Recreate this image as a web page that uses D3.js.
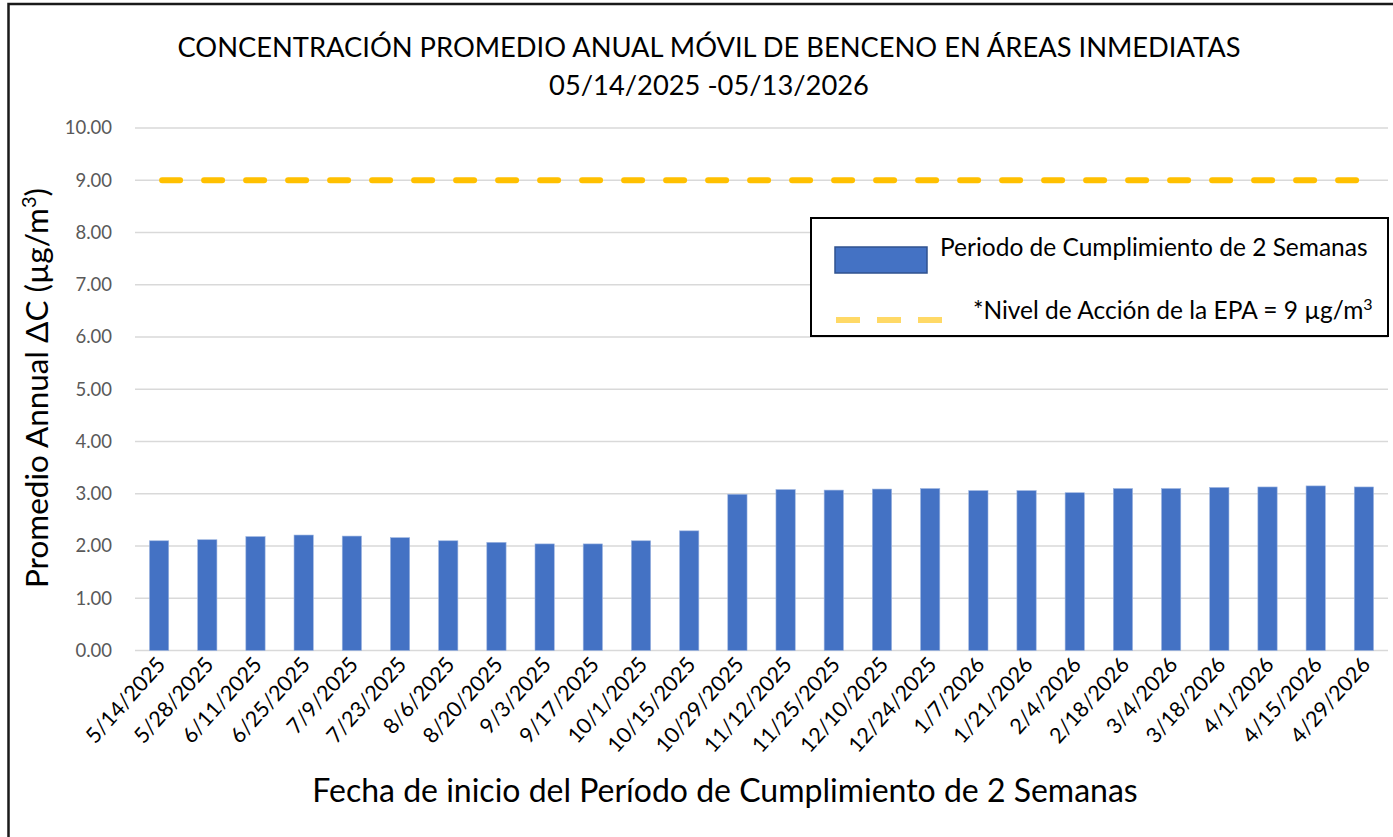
<!DOCTYPE html>
<html>
<head>
<meta charset="utf-8">
<script src="https://cdn.jsdelivr.net/npm/d3@7"></script>
<style>
  body { margin: 0; background: #fff; }
  svg { display: block; font-family: Lato, "Open Sans", sans-serif; }
</style>
</head>
<body>
<div id="wrapper"></div>
<script>
const dates = ["5/14/2025", "5/28/2025", "6/11/2025", "6/25/2025", "7/9/2025", "7/23/2025",
    "8/6/2025", "8/20/2025", "9/3/2025", "9/17/2025", "10/1/2025", "10/15/2025", "10/29/2025",
    "11/12/2025", "11/25/2025", "12/10/2025", "12/24/2025", "1/7/2026", "1/21/2026", "2/4/2026",
    "2/18/2026", "3/4/2026", "3/18/2026", "4/1/2026", "4/15/2026", "4/29/2026"];
const averages = [2.10, 2.12, 2.18, 2.21, 2.19, 2.16, 2.10, 2.07, 2.04, 2.04, 2.10, 2.29, 2.99,
    3.08, 3.07, 3.09, 3.10, 3.06, 3.06, 3.02, 3.10, 3.10, 3.12, 3.13, 3.15, 3.13];
const epaLevel = 9;
const yTicks = [0, 1, 2, 3, 4, 5, 6, 7, 8, 9, 10];

const BAR_COLOR = "#4472C4";
const LINE_COLOR = "#FFC000";
const GRID_COLOR = "#D9D9D9";

const width = 1393;
const height = 837;
const margin = { top: 128, right: 5, bottom: 186.5, left: 135 };
const boundedWidth = width - margin.left - margin.right;
const boundedHeight = height - margin.top - margin.bottom;

const svg = d3.select("#wrapper").append("svg")
    .attr("width", width)
    .attr("height", height);

// outer chart border, runs off the right and bottom edges
svg.append("rect")
    .attr("x", 8.5).attr("y", 4)
    .attr("width", 1420).attr("height", 860)
    .attr("fill", "none")
    .attr("stroke", "#1a1a1a")
    .attr("stroke-width", 2.5);

const bounds = svg.append("g")
    .attr("transform", `translate(${margin.left},${margin.top})`);

const xScale = d3.scaleBand()
    .domain(dates)
    .range([0, boundedWidth])
    .paddingInner(0.6)
    .paddingOuter(0.3);

const yScale = d3.scaleLinear()
    .domain([0, 10])
    .range([boundedHeight, 0]);

// gridlines
bounds.append("g")
    .selectAll("line")
    .data(yTicks)
    .join("line")
    .attr("x1", 0).attr("x2", boundedWidth)
    .attr("y1", d => yScale(d)).attr("y2", d => yScale(d))
    .attr("stroke", GRID_COLOR)
    .attr("stroke-width", 1.5);

// y axis labels
const yAxis = bounds.append("g")
    .call(d3.axisLeft(yScale).tickValues(yTicks).tickFormat(d3.format(".2f")).tickSize(0).tickPadding(23));
yAxis.select(".domain").remove();
yAxis.selectAll("text")
    .attr("fill", "#595959")
    .style("font-family", "Lato, sans-serif")
    .style("font-size", "18.5px");

// bars
bounds.append("g")
    .selectAll("rect")
    .data(averages)
    .join("rect")
    .attr("x", (d, i) => xScale(dates[i]))
    .attr("y", d => yScale(d))
    .attr("width", xScale.bandwidth())
    .attr("height", d => boundedHeight - yScale(d))
    .attr("fill", BAR_COLOR)
    .attr("stroke", "#9DB5E0")
    .attr("stroke-width", 0.6);

// EPA action level line, first to last category centre
const center = d => xScale(d) + xScale.bandwidth() / 2;
const epaLine = d3.line()
    .x(d => center(d))
    .y(() => yScale(epaLevel));
bounds.append("path")
    .datum(dates)
    .attr("d", epaLine)
    .attr("fill", "none")
    .attr("stroke", LINE_COLOR)
    .attr("stroke-width", 6)
    .attr("stroke-linecap", "round")
    .attr("stroke-dasharray", "18 24")
    .attr("stroke-dashoffset", -3);

// x axis labels
const xAxis = bounds.append("g")
    .attr("transform", `translate(0,${boundedHeight})`)
    .call(d3.axisBottom(xScale).tickSize(0).tickPadding(0));
xAxis.select(".domain").remove();
xAxis.selectAll("text")
    .attr("text-anchor", "end")
    .attr("dy", "0.35em")
    .attr("transform", "translate(2,10) rotate(-48)")
    .attr("fill", "#000")
    .style("font-family", "Lato, sans-serif")
    .style("font-size", "21.5px");

// title
const title = svg.append("text")
    .attr("x", 709)
    .attr("text-anchor", "middle")
    .attr("fill", "#000")
    .style("font-size", "27.3px");
title.append("tspan").attr("x", 709).attr("y", 57)
    .text("CONCENTRACIÓN PROMEDIO ANUAL MÓVIL DE BENCENO EN ÁREAS INMEDIATAS");
title.append("tspan").attr("x", 709).attr("y", 95)
    .text("05/14/2025 -05/13/2026");

// axis titles
svg.append("text")
    .attr("x", 725).attr("y", 802)
    .attr("text-anchor", "middle")
    .style("font-size", "32px")
    .text("Fecha de inicio del Período de Cumplimiento de 2 Semanas");

const yTitle = svg.append("text")
    .attr("transform", "translate(48,388) rotate(-90)")
    .attr("text-anchor", "middle")
    .style("font-size", "31.5px");
yTitle.append("tspan").text("Promedio Annual ΔC (µg/m");
yTitle.append("tspan").attr("baseline-shift", "super").style("font-size", "20px").text("3");
yTitle.append("tspan").text(")");

// legend
const legend = svg.append("g").attr("transform", "translate(811,218)");
legend.append("rect")
    .attr("width", 577).attr("height", 118)
    .attr("fill", "#fff")
    .attr("stroke", "#000")
    .attr("stroke-width", 2);
legend.append("rect")
    .attr("x", 24).attr("y", 29)
    .attr("width", 92).attr("height", 26)
    .attr("fill", BAR_COLOR)
    .attr("stroke", "#2F528F")
    .attr("stroke-width", 1.5);
legend.append("line")
    .attr("x1", 25).attr("x2", 131)
    .attr("y1", 102).attr("y2", 102)
    .attr("stroke", "#FFD966")
    .attr("stroke-width", 6)
    .attr("stroke-dasharray", "24 17");
legend.append("text")
    .attr("x", 129).attr("y", 38)
    .style("font-size", "24.5px")
    .text("Periodo de Cumplimiento de 2 Semanas");
const legText = legend.append("text")
    .attr("x", 162).attr("y", 101)
    .style("font-size", "24.5px");
legText.append("tspan").text("*Nivel de Acción de la EPA = 9 µg/m");
legText.append("tspan").attr("baseline-shift", "super").style("font-size", "16px").text("3");
</script>
</body>
</html>
